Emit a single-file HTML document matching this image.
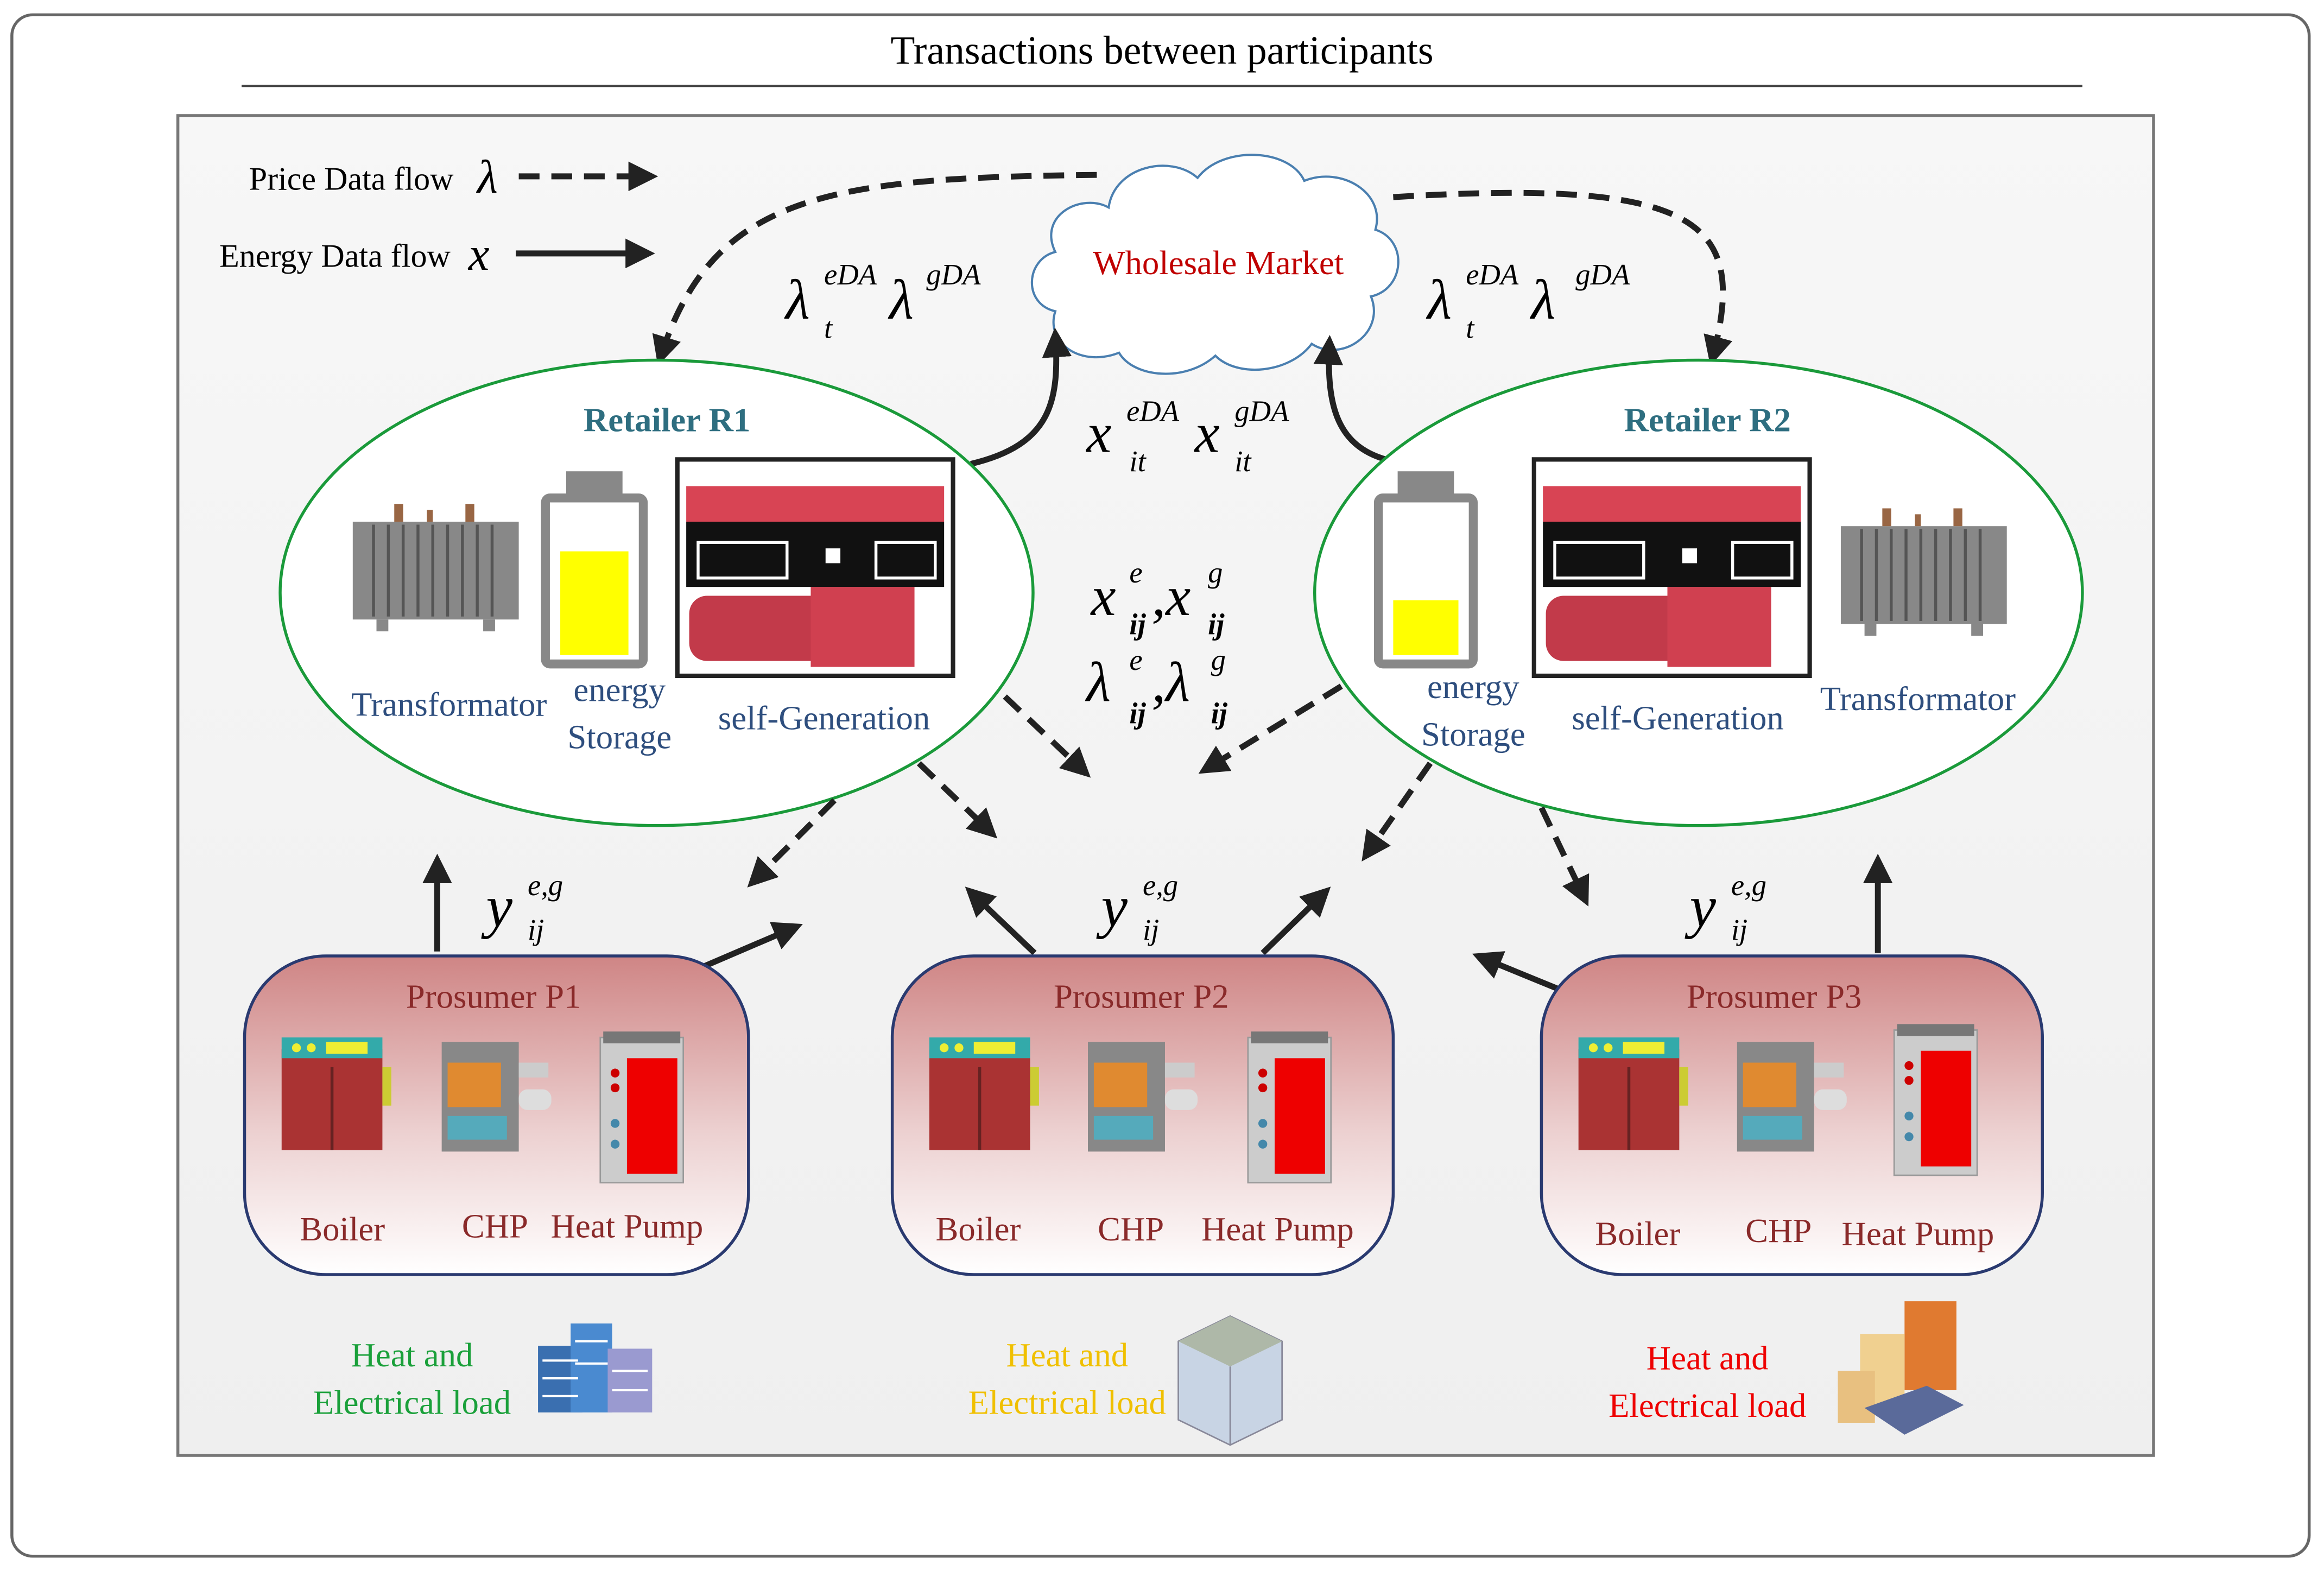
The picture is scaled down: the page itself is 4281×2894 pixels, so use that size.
<!DOCTYPE html>
<html><head><meta charset="utf-8"><style>
html,body{margin:0;padding:0;background:#fff;}
svg{display:block;}
text{font-family:"Liberation Serif",serif;}
</style></head><body>
<svg width="4281" height="2894" viewBox="0 0 1568 1060" xmlns="http://www.w3.org/2000/svg">
<defs>
<marker id="ah" viewBox="0 0 10 10" refX="8" refY="5" markerWidth="5" markerHeight="5" orient="auto"><path d="M0,0 L10,5 L0,10 z" fill="#222"/></marker>
<linearGradient id="pg" x1="0" y1="0" x2="0" y2="1"><stop offset="0" stop-color="#cf8585"/><stop offset="0.55" stop-color="#ecd0d0"/><stop offset="1" stop-color="#ffffff"/></linearGradient>
<linearGradient id="bg" x1="0" y1="0" x2="0" y2="1"><stop offset="0" stop-color="#f7f7f7"/><stop offset="1" stop-color="#efefef"/></linearGradient>
<g id="boiler"><rect x="0" y="8" width="68" height="68" fill="#a33"/><rect x="0" y="0" width="68" height="14" fill="#3aa"/><circle cx="10" cy="7" r="3" fill="#ee3"/><circle cx="20" cy="7" r="3" fill="#ee3"/><rect x="30" y="3" width="28" height="8" fill="#ee3"/><line x1="34" y1="20" x2="34" y2="76" stroke="#622" stroke-width="2"/><rect x="68" y="20" width="6" height="26" fill="#cc3"/></g>
<g id="chp"><rect x="0" y="0" width="52" height="74" fill="#888"/><rect x="4" y="14" width="36" height="30" fill="#e08a30"/><rect x="4" y="50" width="40" height="16" fill="#5ab"/><rect x="52" y="14" width="20" height="10" fill="#ccc"/><rect x="52" y="32" width="22" height="14" rx="6" fill="#ddd"/></g>
<g id="hp"><rect x="0" y="0" width="56" height="98" fill="#ccc" stroke="#999"/><rect x="2" y="-4" width="52" height="8" fill="#777"/><rect x="18" y="14" width="34" height="78" fill="#e00"/><circle cx="10" cy="24" r="3" fill="#c00"/><circle cx="10" cy="34" r="3" fill="#c00"/><circle cx="10" cy="58" r="3" fill="#48a"/><circle cx="10" cy="72" r="3" fill="#48a"/></g>
<g id="trans"><rect x="0" y="12" width="112" height="66" fill="#888"/><g stroke="#555" stroke-width="2"><line x1="14" y1="14" x2="14" y2="76"/><line x1="24" y1="14" x2="24" y2="76"/><line x1="34" y1="14" x2="34" y2="76"/><line x1="44" y1="14" x2="44" y2="76"/><line x1="54" y1="14" x2="54" y2="76"/><line x1="64" y1="14" x2="64" y2="76"/><line x1="74" y1="14" x2="74" y2="76"/><line x1="84" y1="14" x2="84" y2="76"/><line x1="94" y1="14" x2="94" y2="76"/></g><rect x="28" y="0" width="6" height="12" fill="#964"/><rect x="76" y="0" width="6" height="12" fill="#964"/><rect x="50" y="4" width="4" height="8" fill="#964"/><rect x="16" y="78" width="8" height="8" fill="#888"/><rect x="88" y="78" width="8" height="8" fill="#888"/></g>
<g id="gen"><rect x="0" y="0" width="186" height="146" fill="#fff" stroke="#222" stroke-width="3"/><rect x="6" y="18" width="174" height="24" fill="#d84454"/><rect x="6" y="42" width="174" height="44" fill="#111"/><rect x="14" y="56" width="60" height="24" fill="none" stroke="#fff" stroke-width="2"/><rect x="100" y="60" width="10" height="10" fill="#fff"/><rect x="134" y="56" width="40" height="24" fill="none" stroke="#fff" stroke-width="2"/><rect x="8" y="92" width="120" height="44" rx="12" fill="#c23a4a"/><rect x="90" y="86" width="70" height="54" fill="#d04050"/></g>
</defs>

<rect x="8" y="10" width="1550" height="1040" rx="14" fill="#fff" stroke="#666" stroke-width="2"/>
<text x="784" y="43" text-anchor="middle" font-size="27">Transactions between participants</text>
<line x1="163" y1="58" x2="1405" y2="58" stroke="#444" stroke-width="1.5"/>
<rect x="120" y="78" width="1333" height="904" fill="url(#bg)" stroke="#777" stroke-width="2"/>

<!-- legend -->
<text x="168" y="128" font-size="22">Price Data flow</text>
<text x="322" y="130" font-size="32" font-style="italic">λ</text>
<line x1="350" y1="119" x2="440" y2="119" stroke="#222" stroke-width="4" stroke-dasharray="14,8" marker-end="url(#ah)"/>
<text x="148" y="180" font-size="22">Energy Data flow</text>
<text x="316" y="182" font-size="32" font-style="italic">x</text>
<line x1="348" y1="171" x2="438" y2="171" stroke="#222" stroke-width="4" marker-end="url(#ah)"/>

<!-- cloud -->
<path d="M712,210 C690,205 692,175 712,170 C700,145 730,130 748,140 C752,112 790,104 808,120 C825,98 870,100 880,122 C905,112 935,130 928,155 C950,162 948,195 925,200 C935,225 905,245 885,232 C870,252 835,255 820,240 C800,258 765,255 755,238 C730,248 705,232 712,210 Z" fill="#fff" stroke="#4a7fb0" stroke-width="1.5"/>
<text x="822" y="185" text-anchor="middle" font-size="23" fill="#c00000">Wholesale Market</text>

<!-- curved arrows to/from cloud -->
<path d="M740,118 C560,120 480,130 445,243" fill="none" stroke="#222" stroke-width="4" stroke-dasharray="14,8" marker-end="url(#ah)"/>
<path d="M940,133 C1150,120 1180,150 1155,243" fill="none" stroke="#222" stroke-width="4" stroke-dasharray="14,8" marker-end="url(#ah)"/>
<path d="M655,313 C710,300 715,270 712,225" fill="none" stroke="#222" stroke-width="4" marker-end="url(#ah)"/>
<path d="M935,310 C900,300 895,270 897,230" fill="none" stroke="#222" stroke-width="4" marker-end="url(#ah)"/>

<!-- math labels -->
<g font-style="italic" font-family="Liberation Serif,serif">
<text x="530" y="215" font-size="38">λ</text><text x="556" y="192" font-size="20">eDA</text><text x="556" y="228" font-size="20">t</text>
<text x="600" y="215" font-size="38">λ</text><text x="625" y="192" font-size="20">gDA</text>
<text x="963" y="215" font-size="38">λ</text><text x="989" y="192" font-size="20">eDA</text><text x="989" y="228" font-size="20">t</text>
<text x="1033" y="215" font-size="38">λ</text><text x="1063" y="192" font-size="20">gDA</text>
<text x="733" y="305" font-size="38">x</text><text x="760" y="284" font-size="20">eDA</text><text x="762" y="318" font-size="20">it</text>
<text x="806" y="305" font-size="38">x</text><text x="833" y="284" font-size="20">gDA</text><text x="833" y="318" font-size="20">it</text>
<text x="736" y="415" font-size="38">x</text><text x="762" y="393" font-size="20">e</text><text x="762" y="428" font-size="20" font-weight="bold">ij</text><text x="777" y="415" font-size="38">,x</text><text x="815" y="393" font-size="20">g</text><text x="815" y="428" font-size="20" font-weight="bold">ij</text>
<text x="733" y="473" font-size="38">λ</text><text x="762" y="452" font-size="20">e</text><text x="762" y="488" font-size="20" font-weight="bold">ij</text><text x="777" y="473" font-size="38">,λ</text><text x="817" y="452" font-size="20">g</text><text x="817" y="488" font-size="20" font-weight="bold">ij</text>
<text x="328" y="625" font-size="40">y</text><text x="356" y="604" font-size="20">e,g</text><text x="356" y="634" font-size="20">ij</text>
<text x="743" y="625" font-size="40">y</text><text x="771" y="604" font-size="20">e,g</text><text x="771" y="634" font-size="20">ij</text>
<text x="1140" y="625" font-size="40">y</text><text x="1168" y="604" font-size="20">e,g</text><text x="1168" y="634" font-size="20">ij</text>
</g>

<!-- retailers -->
<ellipse cx="443" cy="400" rx="254" ry="157" fill="#fff" stroke="#1a9a3a" stroke-width="2"/>
<text x="450" y="291" text-anchor="middle" font-size="23" font-weight="bold" fill="#2e6e80">Retailer R1</text>
<use href="#trans" x="238" y="340"/>
<rect x="368" y="336" width="66" height="112" rx="3" fill="#fff" stroke="#888" stroke-width="6"/><rect x="382" y="318" width="38" height="18" fill="#888"/><rect x="378" y="372" width="46" height="70" fill="#ff0"/>
<use href="#gen" x="457" y="310"/>
<text x="303" y="483" text-anchor="middle" font-size="23" fill="#2e4e7e">Transformator</text>
<text x="418" y="473" text-anchor="middle" font-size="23" fill="#2e4e7e">energy</text>
<text x="418" y="505" text-anchor="middle" font-size="23" fill="#2e4e7e">Storage</text>
<text x="556" y="492" text-anchor="middle" font-size="23" fill="#2e4e7e">self-Generation</text>

<ellipse cx="1146" cy="400" rx="259" ry="157" fill="#fff" stroke="#1a9a3a" stroke-width="2"/>
<text x="1152" y="291" text-anchor="middle" font-size="23" font-weight="bold" fill="#2e6e80">Retailer R2</text>
<rect x="930" y="336" width="64" height="112" rx="3" fill="#fff" stroke="#888" stroke-width="6"/><rect x="943" y="318" width="38" height="18" fill="#888"/><rect x="940" y="405" width="44" height="37" fill="#ff0"/>
<use href="#gen" x="1035" y="310"/>
<use href="#trans" x="1242" y="343"/>
<text x="994" y="471" text-anchor="middle" font-size="23" fill="#2e4e7e">energy</text>
<text x="994" y="503" text-anchor="middle" font-size="23" fill="#2e4e7e">Storage</text>
<text x="1132" y="492" text-anchor="middle" font-size="23" fill="#2e4e7e">self-Generation</text>
<text x="1294" y="479" text-anchor="middle" font-size="23" fill="#2e4e7e">Transformator</text>

<!-- dashed arrows -->
<g stroke="#222" stroke-width="4" stroke-dasharray="14,8" fill="none" marker-end="url(#ah)">
<line x1="678" y1="470" x2="733" y2="522"/>
<line x1="905" y1="463" x2="812" y2="520"/>
<line x1="563" y1="540" x2="507" y2="596"/>
<line x1="620" y1="515" x2="670" y2="563"/>
<line x1="965" y1="515" x2="921" y2="578"/>
<line x1="1040" y1="545" x2="1070" y2="608"/>
</g>
<g stroke="#222" stroke-width="4" fill="none" marker-end="url(#ah)">
<line x1="295" y1="642" x2="295" y2="580"/>
<line x1="468" y1="655" x2="538" y2="625"/>
<line x1="698" y1="643" x2="654" y2="601"/>
<line x1="852" y1="643" x2="895" y2="601"/>
<line x1="1058" y1="670" x2="997" y2="645"/>
<line x1="1267" y1="643" x2="1267" y2="580"/>
</g>

<!-- prosumers -->
<g>
<rect x="165" y="645" width="340" height="215" rx="55" fill="url(#pg)" stroke="#2a3a70" stroke-width="2"/>
<text x="333" y="680" text-anchor="middle" font-size="23" fill="#8a2a2a">Prosumer P1</text>
<use href="#boiler" x="190" y="700"/><use href="#chp" x="298" y="703"/><use href="#hp" x="405" y="700"/>
<text x="231" y="837" text-anchor="middle" font-size="23" fill="#8a2a2a">Boiler</text>
<text x="334" y="835" text-anchor="middle" font-size="23" fill="#8a2a2a">CHP</text>
<text x="423" y="835" text-anchor="middle" font-size="23" fill="#8a2a2a">Heat Pump</text>
</g>
<g>
<rect x="602" y="645" width="338" height="215" rx="55" fill="url(#pg)" stroke="#2a3a70" stroke-width="2"/>
<text x="770" y="680" text-anchor="middle" font-size="23" fill="#8a2a2a">Prosumer P2</text>
<use href="#boiler" x="627" y="700"/><use href="#chp" x="734" y="703"/><use href="#hp" x="842" y="700"/>
<text x="660" y="837" text-anchor="middle" font-size="23" fill="#8a2a2a">Boiler</text>
<text x="763" y="837" text-anchor="middle" font-size="23" fill="#8a2a2a">CHP</text>
<text x="862" y="837" text-anchor="middle" font-size="23" fill="#8a2a2a">Heat Pump</text>
</g>
<g>
<rect x="1040" y="645" width="338" height="215" rx="55" fill="url(#pg)" stroke="#2a3a70" stroke-width="2"/>
<text x="1197" y="680" text-anchor="middle" font-size="23" fill="#8a2a2a">Prosumer P3</text>
<use href="#boiler" x="1065" y="700"/><use href="#chp" x="1172" y="703"/><use href="#hp" x="1278" y="695"/>
<text x="1105" y="840" text-anchor="middle" font-size="23" fill="#8a2a2a">Boiler</text>
<text x="1200" y="838" text-anchor="middle" font-size="23" fill="#8a2a2a">CHP</text>
<text x="1294" y="840" text-anchor="middle" font-size="23" fill="#8a2a2a">Heat Pump</text>
</g>

<!-- loads -->
<text x="278" y="922" text-anchor="middle" font-size="23" fill="#1aa03a">Heat and</text>
<text x="278" y="954" text-anchor="middle" font-size="23" fill="#1aa03a">Electrical load</text>
<g><rect x="363" y="908" width="30" height="45" fill="#3a6fb0"/><rect x="385" y="893" width="28" height="60" fill="#4a8ad0"/><rect x="410" y="910" width="30" height="43" fill="#9a9ad0"/><g stroke="#fff" stroke-width="1.5"><line x1="366" y1="918" x2="390" y2="918"/><line x1="366" y1="930" x2="390" y2="930"/><line x1="366" y1="942" x2="390" y2="942"/><line x1="388" y1="905" x2="410" y2="905"/><line x1="388" y1="920" x2="410" y2="920"/><line x1="413" y1="925" x2="437" y2="925"/><line x1="413" y1="938" x2="437" y2="938"/></g></g>

<text x="720" y="922" text-anchor="middle" font-size="23" fill="#f0c000">Heat and</text>
<text x="720" y="954" text-anchor="middle" font-size="23" fill="#f0c000">Electrical load</text>
<g><polygon points="795,905 830,888 865,905 865,958 830,975 795,958" fill="#c8d4e4" stroke="#889"/><polygon points="795,905 830,888 865,905 830,922" fill="#aeb8a8"/><line x1="830" y1="922" x2="830" y2="975" stroke="#889"/></g>

<text x="1152" y="924" text-anchor="middle" font-size="23" fill="#ee0000">Heat and</text>
<text x="1152" y="956" text-anchor="middle" font-size="23" fill="#ee0000">Electrical load</text>
<g><rect x="1285" y="878" width="35" height="60" fill="#e07a30"/><rect x="1255" y="900" width="30" height="50" fill="#f0d090"/><rect x="1240" y="925" width="25" height="35" fill="#e8c080"/><polygon points="1258,950 1300,935 1325,948 1285,968" fill="#5a6a9a"/></g>
</svg>
</body></html>
